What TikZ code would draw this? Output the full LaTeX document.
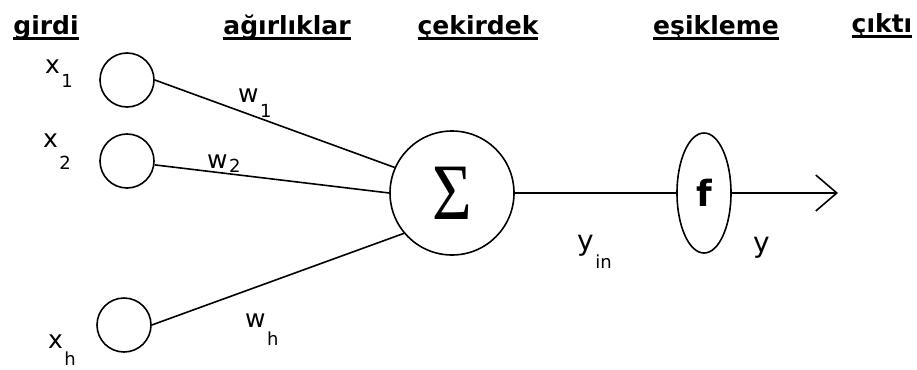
\documentclass[tikz,border=0pt]{standalone}
\usepackage{fontspec}
\setmainfont{DejaVu Sans}
\newfontfamily\sigfont{Liberation Serif}
\usetikzlibrary{arrows.meta,positioning,shapes.geometric}
% underlined heading, and a letter with a dropped index
\newcommand\hd[1]{\setbox0\hbox{#1}\rlap{\rule[-5pt]{\wd0}{2.6pt}}\box0}
\newcommand\sbs[3]{#1\kern1.5pt\raisebox{-#3}{\fontsize{18}{18}\selectfont #2}}
\tikzset{
  unit/.style={circle,draw,line width=1.6pt,minimum size=54pt,inner sep=0pt},
  core/.style={circle,draw,line width=1.6pt,minimum size=124pt,inner sep=0pt},
  act/.style={ellipse,draw,line width=1.6pt,minimum width=54pt,minimum height=120pt,inner sep=0pt},
  ttl/.style={anchor=base,inner sep=0pt,font=\fontsize{25}{25}\selectfont\bfseries},
  sym/.style={anchor=base west,inner sep=0pt,font=\fontsize{25}{25}\selectfont},
  ln/.style={line width=1.6pt},
  ar/.style={ln,-{Straight Barb[length=21pt,width=36pt]}},
}
\begin{document}
\begin{tikzpicture}[x=1pt,y=-1pt]
  \useasboundingbox (0,0) rectangle (917,369);
  % headings
  \node[ttl] (tg) at (46,35) {\hd{girdi}};
  \node[ttl] (tw) at (287,35) {\hd{ağırlıklar}};
  \node[ttl] (tc) at (478,35) {\hd{çekirdek}};
  \node[ttl] (te) at (716,35) {\hd{eşikleme}};
  \node[ttl] (to) at (882,33) {\hd{çıktı}};
  % units
  \node[unit] (x1) at (127,80) {};
  \node[unit] (x2) at (127,161) {};
  \node[unit] (xh) at (124,325) {};
  \node[core] (s) at (452,193) {\scalebox{0.85}[1]{\fontsize{80}{80}\selectfont\sigfont Σ}};
  \node[act] (f) at (704,193) {\fontsize{36}{36}\selectfont\bfseries f};
  \coordinate (out) at (838,193);
  \draw[ln] (x1.east) -- (s.156);
  \draw[ln] (x2.-8) -- (s.180);
  \draw[ln] (xh.east) -- (s.220);
  \draw[ln] (s) -- (f);
  \draw[ar] (f) -- (out);
  % labels
  \node[sym] (lx1) at (45,73) {\sbs{x}{1}{14pt}};
  \node[sym] (lx2) at (43,147) {\sbs{x}{2}{22pt}};
  \node[sym] (lxh) at (48,348) {\sbs{x}{h}{17pt}};
  \node[sym] (lw1) at (238,102) {\sbs{w}{1}{15pt}};
  \node[sym] (lw2) at (207,168) {\sbs{w}{2}{4pt}};
  \node[sym] (lwh) at (245,327) {\sbs{w}{h}{18pt}};
  \node[sym,font=\fontsize{28}{28}\selectfont] (lyin) at (577,250) {\sbs{y}{in}{18pt}};
  \node[sym,font=\fontsize{28}{28}\selectfont] (ly) at (753,252) {y};
\end{tikzpicture}
\end{document}
